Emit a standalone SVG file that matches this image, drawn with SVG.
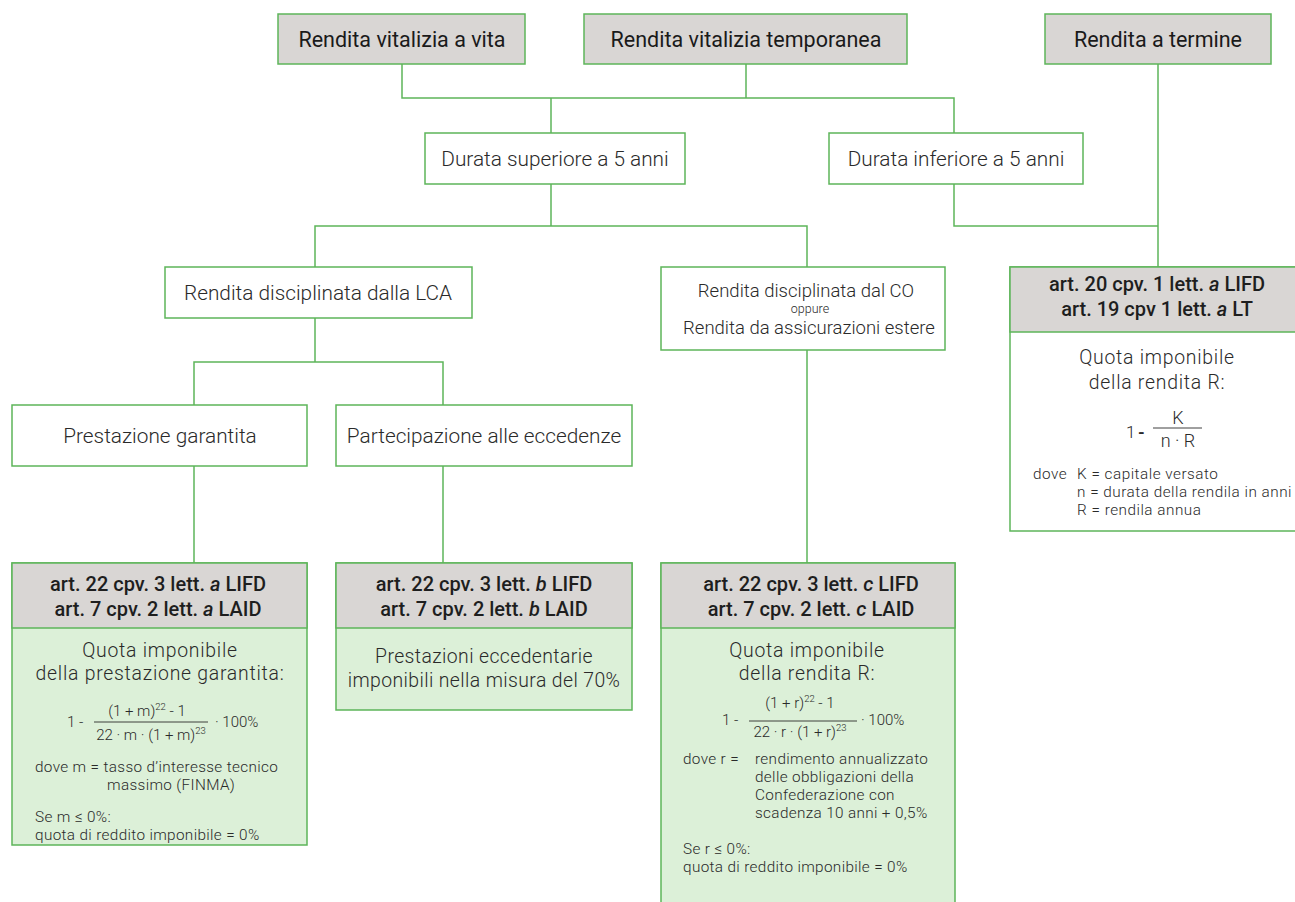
<svg xmlns="http://www.w3.org/2000/svg" width="1295" height="902" viewBox="0 0 1295 902">
<style>
  .box { stroke: #5db55a; stroke-width: 1.5; fill: #ffffff; }
  .gray { fill: #d9d6d4; }
  .green { fill: #dcf0d8; }
  .conn { stroke: #5db55a; stroke-width: 1.5; fill: none; }
  .frac { stroke: #2a2a2a; stroke-width: 0.9; }
  text { font-family: Roboto, "Liberation Sans", sans-serif; fill: #2a2a2a; }
  .lbl { font-size: 20.8px; font-weight: 300; text-anchor: middle; }
  .top { font-size: 21.5px; font-weight: 400; text-anchor: middle; fill: #1a1a1a; }
  .hdr { font-size: 20px; font-weight: 500; text-anchor: middle; fill: #1e1e1e; }
  .body { font-size: 19.4px; font-weight: 300; text-anchor: middle; letter-spacing: 0.75px; }
  .sm { font-size: 15.3px; font-weight: 300; letter-spacing: 0.35px; }
  .f { font-size: 15px; font-weight: 300; }
  .fm { font-size: 15px; font-weight: 300; text-anchor: middle; }
  .sup { font-size: 9.5px; }
  .mid { text-anchor: middle; }
  .it { font-style: italic; }
</style>
<g id="connectors">
  <polyline class="conn" points="402,64 402,98 954,98 954,133"/>
  <line class="conn" x1="746" y1="64" x2="746" y2="98"/>
  <line class="conn" x1="551" y1="98" x2="551" y2="133"/>
  <polyline class="conn" points="315,267 315,226 807,226 807,267"/>
  <line class="conn" x1="551" y1="184" x2="551" y2="226"/>
  <polyline class="conn" points="954,184 954,226 1158,226"/>
  <line class="conn" x1="1158" y1="64" x2="1158" y2="267"/>
  <line class="conn" x1="315" y1="318" x2="315" y2="362"/>
  <polyline class="conn" points="194,405 194,362 443,362 443,405"/>
  <line class="conn" x1="194" y1="466" x2="194" y2="563"/>
  <line class="conn" x1="443" y1="466" x2="443" y2="563"/>
  <line class="conn" x1="807" y1="350" x2="807" y2="563"/>
</g>
<g id="n-vita">
  <rect class="box gray" x="278" y="14" width="247" height="50"/>
  <text class="top" x="402" y="47">Rendita vitalizia a vita</text>
</g>
<g id="n-temporanea">
  <rect class="box gray" x="584" y="14" width="323" height="50"/>
  <text class="top" x="746" y="47">Rendita vitalizia temporanea</text>
</g>
<g id="n-termine">
  <rect class="box gray" x="1045" y="14" width="226" height="50"/>
  <text class="top" x="1158" y="47">Rendita a termine</text>
</g>
<g id="n-superiore">
  <rect class="box" x="425" y="133" width="260" height="51"/>
  <text class="lbl" x="555" y="166">Durata superiore a 5 anni</text>
</g>
<g id="n-inferiore">
  <rect class="box" x="829" y="133" width="254" height="51"/>
  <text class="lbl" x="956" y="166">Durata inferiore a 5 anni</text>
</g>
<g id="n-lca">
  <rect class="box" x="165" y="267" width="307" height="51"/>
  <text class="lbl" x="318" y="300">Rendita disciplinata dalla LCA</text>
</g>
<g id="n-co">
  <rect class="box" x="661" y="267" width="284" height="83"/>
  <text class="lbl"><tspan x="806" y="297" style="font-size:18.5px">Rendita disciplinata dal CO</tspan><tspan x="810" y="313.2" style="font-size:12.5px;font-weight:300">oppure</tspan><tspan x="809" y="333.5" style="font-size:18.5px">Rendita da assicurazioni estere</tspan></text>
</g>
<g id="n-garantita">
  <rect class="box" x="12" y="405" width="295" height="61"/>
  <text class="lbl" x="160" y="443">Prestazione garantita</text>
</g>
<g id="n-eccedenze">
  <rect class="box" x="336" y="405" width="296" height="61"/>
  <text class="lbl" x="484" y="443">Partecipazione alle eccedenze</text>
</g>
<g id="n-art22a">
  <rect class="box green" x="12" y="563" width="295" height="282"/>
  <rect class="box gray" x="12" y="563" width="295" height="65"/>
  <text class="hdr"><tspan x="158" y="591">art. 22 cpv. 3 lett. <tspan class="it">a</tspan> LIFD</tspan><tspan x="158" y="616">art. 7 cpv. 2 lett. <tspan class="it">a</tspan> LAID</tspan></text>
  <text class="body"><tspan x="160" y="657">Quota imponibile</tspan><tspan x="160" y="680">della prestazione garantita:</tspan></text>
  <text class="f" x="67" y="727">1 -</text>
  <text class="fm" x="147" y="716">(1 + m)<tspan class="sup" dy="-6">22</tspan><tspan dy="6"> - 1</tspan></text>
  <line class="frac" x1="94" y1="722" x2="208" y2="722"/>
  <text class="fm" x="151" y="740">22 · m · (1 + m)<tspan class="sup" dy="-6">23</tspan></text>
  <text class="f" x="215" y="727">· 100%</text>
  <text class="sm"><tspan x="35" y="772">dove  m = tasso d’interesse tecnico</tspan><tspan x="107" y="790">massimo (FINMA)</tspan><tspan x="35" y="822">Se m ≤ 0%:</tspan><tspan x="35" y="840">quota di reddito imponibile = 0%</tspan></text>
</g>
<g id="n-art22b">
  <rect class="box green" x="336" y="563" width="296" height="147"/>
  <rect class="box gray" x="336" y="563" width="296" height="65"/>
  <text class="hdr"><tspan x="484" y="591">art. 22 cpv. 3 lett. <tspan class="it">b</tspan>  LIFD</tspan><tspan x="484" y="616">art. 7 cpv. 2 lett. <tspan class="it">b</tspan> LAID</tspan></text>
  <text class="body" style="letter-spacing:0.4px"><tspan x="484" y="663">Prestazioni eccedentarie</tspan><tspan x="484" y="687">imponibili nella misura del 70%</tspan></text>
</g>
<g id="n-art22c">
  <rect class="box green" x="661" y="563" width="294" height="345"/>
  <rect class="box gray" x="661" y="563" width="294" height="65"/>
  <text class="hdr"><tspan x="811" y="591">art. 22 cpv. 3 lett. <tspan class="it">c</tspan> LIFD</tspan><tspan x="811" y="616">art. 7 cpv. 2 lett. <tspan class="it">c</tspan> LAID</tspan></text>
  <text class="body"><tspan x="807" y="657">Quota imponibile</tspan><tspan x="807" y="680">della rendita R:</tspan></text>
  <text class="f" x="722" y="725">1 -</text>
  <text class="fm" x="800" y="708">(1 + r)<tspan class="sup" dy="-6">22</tspan><tspan dy="6">  - 1</tspan></text>
  <line class="frac" x1="749" y1="721" x2="857" y2="721"/>
  <text class="fm" x="800" y="737">22 · r · (1 + r)<tspan class="sup" dy="-6">23</tspan></text>
  <text class="f" x="861" y="725">· 100%</text>
  <text class="sm"><tspan x="683" y="764">dove  r =</tspan><tspan x="755" y="764">rendimento annualizzato</tspan><tspan x="755" y="782">delle obbligazioni della</tspan><tspan x="755" y="800">Confederazione con</tspan><tspan x="755" y="818">scadenza 10 anni + 0,5%</tspan><tspan x="683" y="854">Se r ≤ 0%:</tspan><tspan x="683" y="872">quota di reddito imponibile = 0%</tspan></text>
</g>
<g id="n-art20">
  <rect class="box" x="1010" y="267" width="295" height="264"/>
  <rect class="box gray" x="1010" y="267" width="295" height="65"/>
  <text class="hdr"><tspan x="1157" y="291">art. 20 cpv. 1 lett. <tspan class="it">a</tspan> LIFD</tspan><tspan x="1157" y="316">art. 19 cpv 1 lett. <tspan class="it">a</tspan> LT</tspan></text>
  <text class="body"><tspan x="1157" y="364">Quota imponibile</tspan><tspan x="1157" y="389">della rendita R:</tspan></text>
  <text style="font-size:17px;font-weight:300" x="1126" y="438">1<tspan x="1138" style="font-weight:700">-</tspan></text>
  <text class="mid" x="1178" y="424" style="font-size:18px;font-weight:300">K</text>
  <line class="frac" x1="1153" y1="428" x2="1202" y2="428"/>
  <text class="mid" x="1178" y="447" style="font-size:18px;font-weight:300">n · R</text>
  <text class="sm" style="letter-spacing:0.5px"><tspan x="1033" y="479">dove</tspan><tspan x="1077" y="479">K = capitale versato</tspan><tspan x="1077" y="497">n = durata della rendila in anni</tspan><tspan x="1077" y="515">R = rendila annua</tspan></text>
</g>
</svg>
